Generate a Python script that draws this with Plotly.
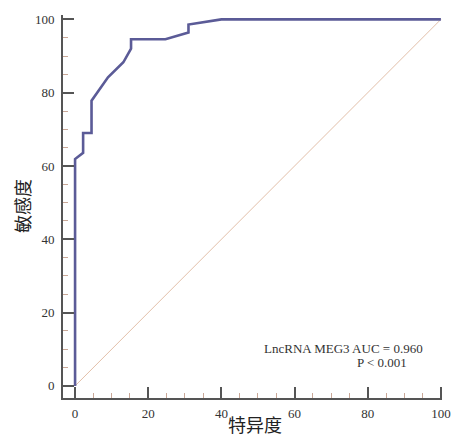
import plotly.graph_objects as go

# ROC curve points (specificity complement, sensitivity) in %
roc_x = [0, 0, 2.2, 2.2, 4.5, 4.5, 9.0, 13.2, 15.3, 15.3, 24.7, 31.0, 31.0, 40.0, 100]
roc_y = [0, 61.9, 63.6, 69.0, 69.0, 77.8, 84.2, 88.3, 92.0, 94.6, 94.6, 96.4, 98.6, 100, 100]
diag_x = [0, 100]
diag_y = [0, 100]
tick_vals = [0, 20, 40, 60, 80, 100]
x_title = "特异度"
y_title = "敏感度"
label_line1 = "LncRNA MEG3 AUC = 0.960"
label_line2 = "P < 0.001"

fig = go.Figure()
fig.add_trace(go.Scatter(x=diag_x, y=diag_y, mode="lines",
                         line=dict(color="#e3c0aa", width=1), hoverinfo="skip"))
fig.add_trace(go.Scatter(x=roc_x, y=roc_y, mode="lines",
                         line=dict(color="#5b5b97", width=2.6)))

axis_common = dict(
    showgrid=False, zeroline=False, showline=True, linecolor="#555555", linewidth=2,
    ticks="inside", ticklen=11, tickwidth=1.5, tickcolor="#555555",
    tickvals=tick_vals, automargin=False,
    tickfont=dict(family="Liberation Serif", size=13, color="#333333"),
    minor=dict(ticks="inside", ticklen=5, tickcolor="#c9a898", tickwidth=1, dtick=5, showgrid=False),
)

fig.update_layout(
    width=454, height=437,
    margin=dict(l=63, r=12, t=15, b=39),
    plot_bgcolor="white", paper_bgcolor="white",
    showlegend=False,
    xaxis=dict(range=[-3.3, 100.3], ticklabelstandoff=2, **axis_common),
    yaxis=dict(range=[-3.3, 101.2], ticklabelstandoff=4, **axis_common),
    annotations=[
        dict(x=73.3, y=10.1, xref="x", yref="y", text=label_line1, showarrow=False,
             font=dict(family="Liberation Serif", size=13, color="#333333")),
        dict(x=83.9, y=6.3, xref="x", yref="y", text=label_line2, showarrow=False,
             font=dict(family="Liberation Serif", size=13, color="#333333")),
        dict(x=255, y=424, xref="paper", yref="paper", text=x_title, showarrow=False,
             xanchor="center", yanchor="middle",
             font=dict(family="Noto Sans CJK SC", size=18, color="#222222")),
        dict(x=22, y=206, xref="paper", yref="paper", text=y_title, showarrow=False, textangle=-90,
             xanchor="center", yanchor="middle",
             font=dict(family="Noto Sans CJK SC", size=18, color="#222222")),
    ],
)

# convert pixel positions of titles to paper coords
pl, pr, pt, pb = 63, 454 - 12, 15, 437 - 39
for a in fig.layout.annotations:
    if a.xref == "paper":
        px, py = a.x, a.y
        a.x = (px - pl) / (pr - pl)
        a.y = (pb - py) / (pb - pt)

fig.write_html("out.html", config={"displayModeBar": False},
               post_script="document.body.style.margin='0';document.body.style.overflow='hidden';")
